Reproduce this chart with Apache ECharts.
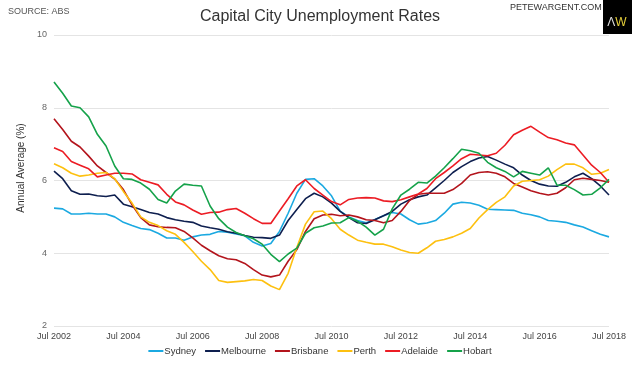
<!DOCTYPE html>
<html>
<head>
<meta charset="utf-8">
<script src="https://cdn.jsdelivr.net/npm/echarts@6/dist/echarts.min.js"></script>
<style>
html,body{margin:0;padding:0;background:#fff;}
#chart{width:640px;height:366px;}
</style>
</head>
<body>
<div id="chart"></div>
<script>
const quarters = [
'Jul 2002','Oct 2002','Jan 2003','Apr 2003','Jul 2003','Oct 2003','Jan 2004','Apr 2004',
'Jul 2004','Oct 2004','Jan 2005','Apr 2005','Jul 2005','Oct 2005','Jan 2006','Apr 2006',
'Jul 2006','Oct 2006','Jan 2007','Apr 2007','Jul 2007','Oct 2007','Jan 2008','Apr 2008',
'Jul 2008','Oct 2008','Jan 2009','Apr 2009','Jul 2009','Oct 2009','Jan 2010','Apr 2010',
'Jul 2010','Oct 2010','Jan 2011','Apr 2011','Jul 2011','Oct 2011','Jan 2012','Apr 2012',
'Jul 2012','Oct 2012','Jan 2013','Apr 2013','Jul 2013','Oct 2013','Jan 2014','Apr 2014',
'Jul 2014','Oct 2014','Jan 2015','Apr 2015','Jul 2015','Oct 2015','Jan 2016','Apr 2016',
'Jul 2016','Oct 2016','Jan 2017','Apr 2017','Jul 2017','Oct 2017','Jan 2018','Apr 2018',
'Jul 2018'];

const sydney = [5.24,5.22,5.08,5.08,5.1,5.08,5.08,5.0,4.85,4.76,4.68,4.65,4.55,4.42,4.42,4.36,4.45,
4.5,4.52,4.6,4.58,4.53,4.48,4.3,4.2,4.27,4.6,5.1,5.65,6.03,6.05,5.85,5.58,
5.16,5.0,4.9,4.84,4.93,5.03,5.12,5.08,4.92,4.8,4.83,4.9,5.1,5.35,5.4,5.38,
5.32,5.21,5.2,5.19,5.18,5.1,5.06,5.0,4.9,4.88,4.85,4.78,4.72,4.62,4.52,4.45];

const melbourne = [6.26,6.05,5.72,5.62,5.63,5.58,5.56,5.6,5.35,5.28,5.2,5.12,5.08,4.98,4.92,4.88,4.85,
4.75,4.7,4.66,4.59,4.55,4.49,4.44,4.43,4.41,4.5,4.9,5.2,5.5,5.65,5.55,5.38,
5.15,4.98,4.84,4.82,4.92,5.03,5.15,5.35,5.47,5.55,5.6,5.8,6.0,6.22,6.38,6.52,
6.62,6.66,6.56,6.45,6.35,6.15,6.0,5.9,5.85,5.84,5.95,6.1,6.2,6.05,5.85,5.6];

const brisbane = [7.7,7.4,7.08,6.92,6.67,6.4,6.22,6.04,5.75,5.33,4.98,4.78,4.73,4.71,4.7,4.6,4.42,
4.22,4.07,3.93,3.85,3.82,3.72,3.55,3.4,3.35,3.4,3.78,4.1,4.6,4.95,5.05,5.07,
5.03,5.05,5.0,4.92,4.9,4.84,4.9,5.15,5.45,5.62,5.65,5.65,5.65,5.75,5.92,6.15,
6.22,6.24,6.2,6.1,5.92,5.82,5.72,5.65,5.6,5.65,5.8,6.02,6.06,6.03,6.0,5.95];

const perth = [6.46,6.35,6.2,6.12,6.15,6.2,6.22,6.05,5.7,5.38,5.0,4.85,4.76,4.62,4.52,4.3,4.05,
3.78,3.55,3.25,3.2,3.22,3.24,3.28,3.25,3.1,3.0,3.45,4.16,4.8,5.14,5.16,4.95,
4.66,4.5,4.36,4.3,4.25,4.25,4.18,4.09,4.02,4.0,4.15,4.33,4.38,4.45,4.55,4.68,
4.97,5.2,5.4,5.55,5.85,5.98,6.0,6.02,6.12,6.3,6.45,6.45,6.35,6.17,6.2,6.3];

const adelaide = [6.9,6.8,6.52,6.42,6.32,6.1,6.15,6.2,6.2,6.18,6.02,5.95,5.88,5.62,5.41,5.33,5.19,
5.07,5.12,5.13,5.2,5.23,5.1,4.95,4.82,4.82,5.16,5.5,5.85,6.02,5.78,5.6,5.42,
5.33,5.48,5.52,5.53,5.52,5.44,5.42,5.47,5.55,5.63,5.78,6.05,6.22,6.4,6.6,6.72,
6.7,6.68,6.75,6.97,7.26,7.38,7.49,7.33,7.18,7.12,7.03,6.98,6.7,6.42,6.22,5.95];

const hobart = [8.71,8.4,8.05,8.0,7.75,7.27,6.95,6.4,6.05,6.03,5.93,5.76,5.48,5.38,5.71,5.9,5.87,
5.85,5.3,4.95,4.72,4.57,4.48,4.4,4.25,3.97,3.77,3.98,4.14,4.55,4.7,4.75,4.83,
4.84,4.98,4.88,4.72,4.5,4.66,5.22,5.6,5.76,5.95,5.93,6.12,6.35,6.6,6.86,6.82,
6.75,6.5,6.35,6.25,6.1,6.25,6.2,6.15,6.35,5.87,5.87,5.75,5.6,5.62,5.8,6.03];

const seriesNames = ['Sydney','Melbourne','Brisbane','Perth','Adelaide','Hobart'];
const seriesData = [sydney, melbourne, brisbane, perth, adelaide, hobart];
const seriesColors = ['#1ba9e1','#0e1f4f','#b3141c','#fdc010','#ec1c24','#15a24a'];

const yTicks = [2, 4, 6, 8, 10];
const FONT = '"Liberation Sans", Arial, sans-serif';

const chart = echarts.init(document.getElementById('chart'), null, {renderer: 'canvas'});

chart.setOption({
  animation: false,
  backgroundColor: '#fff',
  textStyle: {fontFamily: FONT},
  title: {
    text: 'Capital City Unemployment Rates',
    left: 'center',
    top: 4,
    textStyle: {fontFamily: FONT, fontSize: 16, fontWeight: 'normal', color: '#333'}
  },
  grid: {left: 54, right: 31, top: 35, bottom: 40, containLabel: false},
  legend: {
    data: seriesNames,
    bottom: 5,
    left: 'center',
    icon: 'rect',
    itemWidth: 15,
    itemHeight: 2,
    itemGap: 9,
    textStyle: {fontFamily: FONT, fontSize: 9.5, color: '#333', padding: [0,0,0,-4]}
  },
  xAxis: {
    type: 'category',
    data: quarters,
    boundaryGap: false,
    axisLine: {show: false},
    axisTick: {show: false},
    splitLine: {show: false},
    axisLabel: {
      interval: function (i) { return i % 8 === 0; },
      fontFamily: FONT, fontSize: 9, color: '#444', margin: 6
    }
  },
  yAxis: {
    type: 'value',
    min: yTicks[0],
    max: yTicks[yTicks.length - 1],
    interval: 2,
    axisLine: {show: false},
    axisTick: {show: false},
    splitLine: {lineStyle: {color: '#e4e4e4', width: 1}},
    axisLabel: {fontFamily: FONT, fontSize: 9, color: '#666', margin: 7}
  },
  graphic: [
    {type: 'text', left: 8, top: 7,
     style: {text: 'SOURCE: ABS', fontFamily: FONT, fontSize: 9, fill: '#555'}},
    {type: 'text', left: 510, top: 3,
     style: {text: 'PETEWARGENT.COM', fontFamily: FONT, fontSize: 9, fill: '#333'}},
    {type: 'rect', shape: {x: 603, y: 0, width: 29, height: 34}, style: {fill: '#000'}},
    {type: 'text', x: 617, y: 23,
     style: {text: '{a|Λ}{b|W}', align: 'center', verticalAlign: 'middle',
       rich: {a: {fontFamily: FONT, fontSize: 12, fill: '#ddd', color: '#ddd'},
              b: {fontFamily: FONT, fontSize: 12, fill: '#e5cf3a', color: '#e5cf3a'}}}},
    {type: 'text', x: 21, y: 168, rotation: Math.PI / 2,
     style: {text: 'Annual Average (%)', fontFamily: FONT, fontSize: 10, fill: '#333',
       align: 'center', verticalAlign: 'middle'}}
  ],
  series: seriesNames.map(function (name, i) {
    return {
      name: name,
      type: 'line',
      data: seriesData[i],
      showSymbol: false,
      symbol: 'none',
      smooth: false,
      color: seriesColors[i],
      lineStyle: {width: 1.6, color: seriesColors[i]}
    };
  })
});
</script>
</body>
</html>
